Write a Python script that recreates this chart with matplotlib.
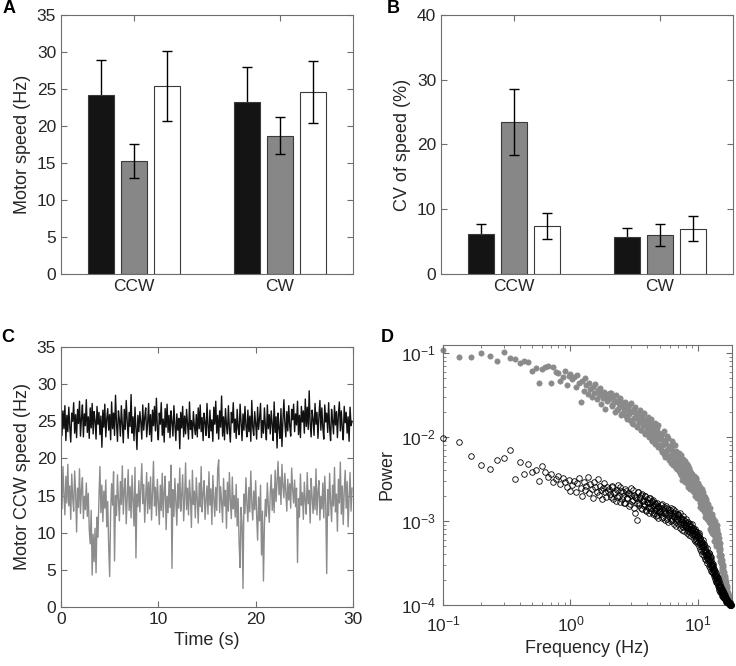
import numpy as np
import matplotlib
matplotlib.use('Agg')
import matplotlib.pyplot as plt

plt.rcParams['font.family'] = ['Liberation Sans', 'DejaVu Sans']
plt.rcParams['mathtext.default'] = 'regular'

# ---------------- data ----------------
groups = ['CCW', 'CW']
bar_colors = ['#141414', '#878787', '#ffffff']

# panel A: motor speed (Hz), 3 strains per direction
speed_ccw = [24.2, 15.3, 25.4]
speed_ccw_err = [4.7, 2.3, 4.7]
speed_cw = [23.3, 18.7, 24.6]
speed_cw_err = [4.7, 2.5, 4.15]

# panel B: CV of speed (%)
cv_ccw = [6.1, 23.4, 7.4]
cv_ccw_err = [1.65, 5.1, 2.0]
cv_cw = [5.7, 6.0, 7.0]
cv_cw_err = [1.4, 1.75, 1.95]

# panel C: speed traces, one sample every 0.1 s
trace_dt = 0.1
trace_black = [
    28.2, 23.1, 26.4, 24.0, 27.1, 22.4, 25.8, 23.6, 26.9, 24.3, 22.2, 26.1, 25.0, 27.5, 23.4, 25.9, 22.8, 26.6, 24.7, 27.7,
    23.0, 25.4, 27.2, 22.9, 26.0, 24.4, 27.9, 23.5, 25.6, 22.7, 26.8, 24.1, 27.4, 23.3, 26.3, 25.1, 22.6, 27.0, 24.6, 26.2,
    23.2, 25.7, 21.5, 26.5, 24.2, 27.3, 22.9, 25.3, 26.7, 23.8, 25.9, 22.5, 27.6, 24.0, 26.1, 23.1, 28.5, 24.8, 22.3, 26.4,
    25.2, 23.0, 27.1, 24.5, 22.1, 26.6, 23.9, 27.8, 25.0, 22.7, 26.2, 24.3, 28.6, 23.4, 25.6, 22.4, 26.9, 24.1, 21.2, 25.8,
    23.6, 26.3, 24.9, 22.6, 27.2, 23.8, 25.5, 26.8, 22.9, 24.7, 27.4, 23.2, 25.9, 22.3, 26.5, 24.4, 27.0, 23.7, 28.1, 24.0,
    22.5, 26.1, 24.6, 27.5, 23.1, 25.3, 22.2, 26.7, 24.2, 27.3, 23.5, 25.8, 22.8, 26.4, 24.9, 23.0, 27.1, 24.5, 22.4, 26.0,
    23.8, 25.4, 21.3, 26.2, 24.1, 27.0, 22.9, 25.7, 23.3, 26.6, 24.7, 22.6, 27.6, 23.9, 25.1, 22.7, 26.3, 24.4, 23.2, 25.9,
    22.9, 26.8, 24.0, 27.2, 23.6, 25.5, 22.4, 26.1, 24.8, 23.1, 27.4, 24.3, 22.8, 26.5, 23.7, 25.2, 22.3, 26.9, 24.6, 27.7,
    23.4, 25.8, 22.6, 26.4, 24.2, 28.4, 23.0, 25.6, 22.5, 26.7, 24.5, 23.3, 27.1, 24.0, 22.2, 26.2, 24.8, 27.5, 23.5, 25.3,
    22.7, 26.6, 24.1, 23.2, 27.3, 24.9, 22.4, 26.0, 23.8, 27.0, 24.4, 22.9, 26.5, 23.6, 25.7, 22.3, 27.8, 24.2, 23.1, 26.3,
    24.7, 22.6, 26.9, 23.9, 25.4, 27.4, 22.8, 25.1, 23.4, 26.8, 24.3, 22.5, 27.2, 24.0, 25.9, 23.3, 26.4, 24.6, 22.4, 27.6,
    23.5, 25.6, 21.4, 26.1, 24.1, 22.7, 26.7, 21.6, 25.0, 27.9, 24.8, 22.9, 26.3, 23.7, 27.1, 24.4, 23.0, 26.6, 25.2, 27.3,
    23.6, 26.0, 24.5, 27.7, 23.2, 25.8, 22.8, 27.0, 24.9, 26.4, 23.4, 28.0, 24.3, 26.9, 23.9, 29.1, 24.7, 22.9, 26.5, 25.3,
    23.1, 27.4, 24.6, 26.2, 22.7, 25.7, 27.8, 23.8, 26.8, 24.2, 22.6, 27.2, 24.9, 26.1, 23.5, 27.5, 24.0, 22.4, 26.6, 25.1,
    23.3, 27.1, 24.5, 26.3, 22.8, 25.9, 27.6, 23.7, 26.4, 24.1, 22.5, 27.0, 24.8, 26.2, 23.4, 25.6, 22.3, 26.9, 24.4, 25.0,
]
trace_gray = [
    16.8, 13.2, 18.9, 15.1, 12.4, 17.6, 14.0, 19.2, 13.6, 16.3, 11.8, 17.9, 14.7, 12.9, 18.3, 15.5, 10.1, 16.0, 13.4, 18.6,
    12.6, 15.8, 17.4, 11.9, 14.9, 13.1, 16.7, 12.2, 15.3, 10.5, 8.5, 13.0, 4.3, 9.8, 6.1, 10.6, 4.6, 12.1, 9.4, 14.8,
    18.9, 12.7, 16.4, 11.5, 15.6, 13.3, 17.1, 10.8, 14.2, 8.0, 4.1, 12.9, 16.6, 13.7, 18.2, 6.2, 15.0, 12.3, 17.8, 14.4,
    11.6, 16.9, 13.8, 19.0, 12.5, 15.7, 17.3, 11.2, 14.6, 18.5, 13.0, 16.2, 12.0, 17.7, 14.1, 10.9, 18.8, 6.6, 15.2, 13.5,
    17.0, 12.8, 15.9, 19.3, 13.9, 16.5, 11.4, 14.8, 18.1, 12.6, 16.8, 13.2, 17.5, 11.7, 15.4, 19.6, 13.6, 16.1, 12.3, 17.2,
    14.3, 11.1, 16.4, 13.0, 18.0, 12.1, 15.5, 17.6, 10.4, 14.9, 12.7, 16.9, 13.4, 19.1, 5.2, 15.8, 12.2, 17.3, 14.0, 11.0,
    16.6, 13.3, 18.7, 12.9, 15.1, 17.8, 11.6, 14.5, 19.4, 13.1, 16.0, 12.4, 17.1, 14.7, 10.7, 18.4, 13.8, 15.6, 12.0, 17.4,
    14.2, 11.3, 16.7, 13.5, 18.9, 12.8, 15.3, 17.0, 11.8, 14.4, 16.3, 12.5, 18.2, 13.7, 15.9, 11.1, 17.7, 14.6, 12.2, 16.1,
    13.0, 18.6, 19.8, 12.7, 16.2, 14.1, 11.4, 17.3, 13.6, 15.7, 10.6, 16.8, 12.9, 18.1, 14.3, 11.9, 17.5, 13.2, 15.0, 12.1,
    16.5, 10.9, 14.6, 8.6, 5.3, 13.4, 11.2, 2.5, 15.2, 12.6, 17.4, 13.9, 11.5, 16.1, 12.8, 18.3, 14.0, 11.7, 15.6, 13.1,
    17.0, 12.3, 9.0, 14.8, 11.6, 16.4, 7.0, 12.9, 3.5, 11.0, 14.5, 12.2, 16.7, 13.6, 11.4, 15.3, 17.8, 13.0, 15.9, 12.7,
    18.4, 14.2, 16.9, 19.6, 15.1, 17.5, 13.8, 19.2, 16.3, 14.7, 18.0, 15.5, 12.9, 17.2, 14.4, 16.6, 13.3, 18.7, 15.8, 14.0,
    17.1, 13.5, 16.0, 6.0, 14.6, 12.1, 17.9, 13.7, 15.4, 11.8, 16.8, 14.2, 12.5, 18.1, 13.9, 15.7, 11.3, 17.3, 14.8, 12.6,
    16.2, 13.1, 18.6, 12.4, 15.5, 17.0, 11.7, 14.9, 13.2, 16.7, 12.0, 17.6, 13.8, 4.5, 15.8, 12.3, 18.0, 14.1, 11.5, 16.4,
    13.6, 18.8, 12.8, 15.2, 10.2, 17.2, 14.0, 19.5, 12.5, 16.3, 11.1, 15.6, 18.4, 13.3, 16.9, 10.8, 14.7, 18.1, 12.9, 16.0,
]

# panel D: power spectra (log10 power), frequency bins of 1/30 Hz (bin index k)
psd_bins = np.concatenate([np.arange(3, 60), np.arange(60, 150, 2), np.arange(150, 544, 3),
                           np.arange(61, 150, 2), np.arange(151, 545, 3)])
psd_gray_log = [
    -0.96, -1.05, -1.05, -1.00, -1.03, -1.09, -0.99, -1.06, -1.07, -1.12,
    -1.09, -1.10, -1.21, -1.18, -1.36, -1.19, -1.17, -1.15, -1.35, -1.16,
    -1.22, -1.24, -1.33, -1.29, -1.21, -1.38, -1.27,
    -1.25, -1.31, -1.28, -1.40, -1.26, -1.36, -1.58, -1.33, -1.45, -1.30,
    -1.38, -1.49, -1.35, -1.43, -1.52, -1.40, -1.47, -1.37, -1.55, -1.44,
    -1.50, -1.42, -1.61, -1.48, -1.53, -1.46, -1.66, -1.51, -1.57, -1.49,
    # k 60..148 step 2
    -1.55, -1.47, -1.62, -1.58, -1.50, -1.68, -1.61, -1.56, -1.72, -1.64,
    -1.59, -1.75, -1.67, -1.62, -1.80, -1.70, -1.84, -1.66, -1.77, -1.73,
    -1.88, -1.71, -1.82, -1.78, -1.92, -1.76, -1.86, -1.81, -1.96, -1.84,
    -1.90, -1.79, -1.99, -1.87, -1.93, -2.03, -1.85, -1.97, -1.91, -2.06,
    -1.95, -2.01, -1.89, -2.09, -1.98,
    # k 150..543 step 3
    -2.02, -2.14, -1.96, -2.10, -2.20, -2.05, -2.16, -1.99, -2.23, -2.11,
    -2.25, -2.12, -2.31, -2.19, -2.08, -2.28, -2.35, -2.16, -2.27, -2.38,
    -2.24, -2.40, -2.30, -2.45, -2.21, -2.36, -2.48, -2.33, -2.42, -2.29,
    -2.50, -2.38, -2.55, -2.43, -2.34, -2.58, -2.46, -2.40, -2.53, -2.49,
    -2.44, -2.60, -2.52, -2.66, -2.47, -2.57, -2.63, -2.50, -2.69, -2.58,
    -2.55, -2.71, -2.64, -2.78, -2.60, -2.68, -2.75, -2.62, -2.81, -2.70,
    -2.66, -2.84, -2.76, -2.71, -2.90, -2.79, -2.74, -2.93, -2.82, -2.87,
    -2.80, -2.95, -2.88, -3.01, -2.85, -2.97, -3.05, -2.92, -3.08, -2.99,
    -2.92, -3.05, -2.96, -3.10, -3.02, -3.12, -3.00, -3.18, -3.09, -3.20,
    -3.05, -3.18, -3.10, -3.24, -3.15, -3.30, -3.20, -3.34, -3.26, -3.40,
    -3.35, -3.45, -3.40, -3.52, -3.46, -3.57, -3.52, -3.62, -3.58, -3.66,
    -3.61, -3.70, -3.65, -3.74, -3.69, -3.78, -3.73, -3.81, -3.77, -3.84,
    -3.83, -3.88, -3.86, -3.91, -3.89, -3.93, -3.92, -3.95, -3.96, -3.98,
    -3.99, -4.00,
    # k 61..149 step 2
    -1.48, -1.63, -1.52, -1.70, -1.57, -1.66, -1.53, -1.74, -1.61, -1.69,
    -1.58, -1.78, -1.65, -1.73, -1.60, -1.83, -1.69, -1.77, -1.64, -1.87,
    -1.72, -1.81, -1.68, -1.92, -1.75, -1.85, -1.71, -1.95, -1.80, -1.89,
    -1.76, -2.00, -1.84, -1.93, -1.79, -2.05, -1.88, -1.97, -1.83, -2.08,
    -1.91, -2.02, -1.86, -2.12, -1.95,
    # k 151..544 step 3
    -2.09, -1.97, -2.18, -2.04, -1.93, -2.24, -2.08, -2.15, -2.01, -2.27,
    -2.13, -2.22, -2.05, -2.33, -2.17, -2.26, -2.10, -2.37, -2.21, -2.30,
    -2.36, -2.19, -2.43, -2.27, -2.51, -2.34, -2.26, -2.46, -2.39, -2.53,
    -2.41, -2.32, -2.49, -2.60, -2.37, -2.52, -2.45, -2.62, -2.43, -2.56,
    -2.51, -2.64, -2.46, -2.59, -2.70, -2.54, -2.61, -2.49, -2.73, -2.63,
    -2.66, -2.58, -2.74, -2.67, -2.83, -2.63, -2.77, -2.70, -2.86, -2.74,
    -2.78, -2.70, -2.88, -2.81, -2.95, -2.76, -2.91, -2.84, -2.98, -2.89,
    -2.90, -2.84, -3.00, -2.93, -3.10, -2.96, -3.04, -3.12, -2.98, -3.14,
    -3.06, -3.00, -3.15, -3.08, -3.24, -3.12, -3.19, -3.27, -3.14, -3.30,
    -3.12, -3.22, -3.16, -3.29, -3.21, -3.36, -3.27, -3.42, -3.32, -3.48,
    -3.41, -3.50, -3.44, -3.55, -3.50, -3.60, -3.55, -3.64, -3.61, -3.69,
    -3.65, -3.72, -3.68, -3.76, -3.72, -3.80, -3.76, -3.83, -3.80, -3.86,
    -3.85, -3.89, -3.88, -3.92, -3.91, -3.94, -3.94, -3.96, -3.97, -3.99,
    -4.00, -4.00,
]
psd_black_log = [
    -2.01, -2.06, -2.22, -2.33, -2.38, -2.27, -2.25, -2.15, -2.50, -2.30,
    -2.44, -2.32, -2.42, -2.39, -2.52, -2.34, -2.41, -2.47, -2.44, -2.54,
    -2.50, -2.46, -2.56, -2.49, -2.53, -2.60, -2.51,
    -2.64, -2.57, -2.52, -2.66, -2.55, -2.49, -2.61, -2.70, -2.54, -2.63,
    -2.58, -2.48, -2.67, -2.56, -2.62, -2.72, -2.53, -2.60, -2.65, -2.50,
    -2.69, -2.58, -2.63, -2.74, -2.61, -2.55, -2.66, -2.71, -2.59, -2.64,
    # k 60..148 step 2
    -2.62, -2.71, -2.58, -2.67, -2.76, -2.63, -2.70, -2.59, -2.74, -2.66,
    -2.78, -2.64, -2.72, -2.68, -2.80, -2.61, -2.75, -2.69, -2.90, -2.73,
    -2.99, -2.66, -2.79, -2.71, -2.84, -2.68, -2.76, -2.82, -2.70, -2.87,
    -2.74, -2.79, -2.85, -2.72, -2.88, -2.77, -2.82, -2.75, -2.91, -2.80,
    -2.86, -2.78, -2.93, -2.83, -2.89,
    # k 150..543 step 3
    -2.84, -2.92, -2.80, -2.95, -2.87, -2.90, -2.82, -2.97, -2.86, -2.93,
    -2.89, -2.96, -2.85, -2.99, -2.91, -2.94, -2.88, -3.01, -2.92, -2.97,
    -2.93, -3.00, -2.90, -3.04, -2.96, -2.99, -3.07, -2.94, -3.02, -3.06,
    -2.98, -3.05, -3.10, -3.01, -3.08, -3.03, -3.13, -3.06, -3.11, -3.09,
    -3.04, -3.14, -3.08, -3.17, -3.12, -3.09, -3.20, -3.15, -3.19, -3.13,
    -3.18, -3.23, -3.14, -3.26, -3.21, -3.29, -3.24, -3.31, -3.27, -3.22,
    -3.30, -3.35, -3.28, -3.38, -3.33, -3.41, -3.36, -3.32, -3.44, -3.39,
    -3.40, -3.46, -3.38, -3.49, -3.44, -3.52, -3.47, -3.43, -3.55, -3.50,
    -3.52, -3.58, -3.54, -3.61, -3.57, -3.64, -3.59, -3.66, -3.62, -3.68,
    -3.65, -3.70, -3.67, -3.73, -3.69, -3.76, -3.72, -3.78, -3.75, -3.80,
    -3.77, -3.82, -3.79, -3.84, -3.81, -3.86, -3.83, -3.87, -3.85, -3.89,
    -3.86, -3.90, -3.88, -3.91, -3.89, -3.93, -3.92, -3.94, -3.93, -3.95,
    -3.94, -3.96, -3.95, -3.97, -3.96, -3.98, -3.97, -3.98, -3.99, -3.99,
    -4.00, -4.00,
    # k 61..149 step 2
    -2.68, -2.60, -2.74, -2.65, -2.71, -2.57, -2.77, -2.64, -2.70, -2.79,
    -2.62, -2.73, -2.67, -2.82, -2.69, -2.76, -2.63, -2.85, -2.71, -2.78,
    -2.66, -2.81, -2.73, -2.69, -2.86, -2.75, -2.80, -2.70, -2.88, -2.77,
    -2.83, -2.72, -2.90, -2.79, -2.84, -2.76, -2.92, -2.81, -2.87, -2.78,
    -2.94, -2.85, -2.82, -2.96, -2.88,
    # k 151..544 step 3
    -2.88, -2.81, -2.96, -2.89, -2.83, -2.99, -2.91, -2.85, -3.01, -2.90,
    -2.87, -3.00, -2.93, -2.86, -3.04, -2.95, -2.90, -3.06, -2.97, -2.92,
    -3.03, -2.95, -3.08, -2.98, -3.11, -3.01, -2.97, -3.12, -3.04, -3.00,
    -3.07, -3.14, -3.02, -3.12, -3.06, -3.17, -3.09, -3.04, -3.18, -3.11,
    -3.16, -3.08, -3.21, -3.11, -3.24, -3.15, -3.22, -3.13, -3.26, -3.18,
    -3.25, -3.17, -3.30, -3.20, -3.33, -3.26, -3.36, -3.25, -3.39, -3.30,
    -3.36, -3.27, -3.42, -3.31, -3.45, -3.37, -3.47, -3.40, -3.50, -3.43,
    -3.45, -3.38, -3.53, -3.42, -3.56, -3.48, -3.59, -3.51, -3.61, -3.54,
    -3.56, -3.62, -3.51, -3.65, -3.60, -3.69, -3.63, -3.71, -3.66, -3.73,
    -3.70, -3.74, -3.68, -3.77, -3.73, -3.80, -3.76, -3.82, -3.79, -3.84,
    -3.81, -3.85, -3.83, -3.87, -3.85, -3.89, -3.87, -3.90, -3.89, -3.92,
    -3.90, -3.92, -3.91, -3.93, -3.92, -3.95, -3.94, -3.96, -3.95, -3.97,
    -3.96, -3.97, -3.97, -3.98, -3.98, -3.99, -3.99, -4.00, -4.00, -4.00,
    -4.00, -4.00,
]

TXT = '#262626'
AXC = '#6e6e6e'


def style_axes(ax):
    for s in ax.spines.values():
        s.set_color(AXC)
        s.set_linewidth(0.8)
    ax.tick_params(which='both', direction='in', top=True, right=True,
                   color=AXC, labelcolor=TXT, labelsize=12.5)
    ax.tick_params(which='major', length=4)
    ax.tick_params(which='minor', length=2)


def grouped_bars(ax, vals_ccw, err_ccw, vals_cw, err_cw):
    offs = [-0.226, 0.0, 0.226]
    for i in range(3):
        xs = np.array([1, 2]) + offs[i]
        ys = [vals_ccw[i], vals_cw[i]]
        es = [err_ccw[i], err_cw[i]]
        ax.bar(xs, ys, width=0.18, color=bar_colors[i], edgecolor='#3a3a3a',
               linewidth=0.8, zorder=2)
        # black bars hide the lower whisker, as in the original figure
        z = 1 if i == 0 else 3
        ax.errorbar(xs, ys, yerr=es, fmt='none', ecolor='black', elinewidth=1.0,
                    capsize=3.5, capthick=1.0, zorder=z)
    ax.set_xlim(0.5, 2.5)
    ax.set_xticks([1, 2])
    ax.set_xticklabels(groups)


fig = plt.figure(figsize=(7.36, 6.66), dpi=100)

# A
axA = fig.add_axes([0.0829, 0.5886, 0.3967, 0.3889])
grouped_bars(axA, speed_ccw, speed_ccw_err, speed_cw, speed_cw_err)
axA.set_ylim(0, 35)
axA.set_yticks(np.arange(0, 36, 5))
axA.set_ylabel('Motor speed (Hz)', fontsize=13, color=TXT)
style_axes(axA)

# B
axB = fig.add_axes([0.5992, 0.5886, 0.3967, 0.3889])
grouped_bars(axB, cv_ccw, cv_ccw_err, cv_cw, cv_cw_err)
axB.set_ylim(0, 40)
axB.set_yticks([0, 10, 20, 30, 40])
axB.set_ylabel('CV of speed (%)', fontsize=13, color=TXT)
style_axes(axB)

# C
axC = fig.add_axes([0.0829, 0.0886, 0.3967, 0.3904])
t = np.arange(len(trace_black)) * trace_dt
axC.plot(t, trace_gray, color='#8c8c8c', lw=1.0)
axC.plot(t, trace_black, color='#111111', lw=1.0)
axC.set_xlim(0, 30)
axC.set_ylim(0, 35)
axC.set_xticks([0, 10, 20, 30])
axC.set_yticks(np.arange(0, 36, 5))
axC.set_xlabel('Time (s)', fontsize=13, color=TXT)
axC.set_ylabel('Motor CCW speed (Hz)', fontsize=13, color=TXT)
style_axes(axC)

# D
axD = fig.add_axes([0.6019, 0.0916, 0.3927, 0.3904])
freq = psd_bins / 30.0
axD.plot(freq, 10.0 ** np.array(psd_gray_log), 'o', ms=3.8, color='#8a8a8a',
         mec='#8a8a8a', mew=0.5, clip_on=False, zorder=2)
axD.plot(freq, 10.0 ** np.array(psd_black_log), 'o', ms=4.0, mfc='none',
         mec='black', mew=0.6, clip_on=False, zorder=3)
axD.set_xscale('log')
axD.set_yscale('log')
axD.set_xlim(0.1, 18.5)
axD.set_ylim(1e-4, 0.125)
axD.set_xticks([0.1, 1, 10])
axD.set_yticks([1e-4, 1e-3, 1e-2, 1e-1])
axD.set_xlabel('Frequency (Hz)', fontsize=13, color=TXT)
axD.set_ylabel('Power', fontsize=13, color=TXT)
style_axes(axD)
axD.tick_params(axis='x', which='major', pad=7)
axD.tick_params(axis='y', which='major', pad=5)

# panel letters
for lab, x, y in [('A', 0.004, 0.975), ('B', 0.525, 0.975), ('C', 0.002, 0.481), ('D', 0.518, 0.481)]:
    fig.text(x, y, lab, fontsize=13, fontweight='bold', color='black', va='bottom')

fig.savefig('out.png', dpi=100)
